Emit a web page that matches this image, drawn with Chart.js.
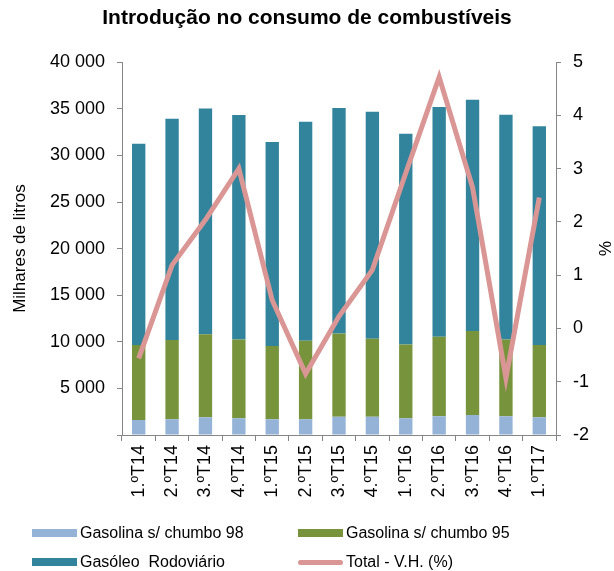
<!DOCTYPE html>
<html>
<head>
<meta charset="utf-8">
<script src="https://cdn.jsdelivr.net/npm/chart.js@4.4.1/dist/chart.umd.min.js"></script>
<style>
  body { margin: 0; background: #fff; font-family: "Liberation Sans", Arial, sans-serif; }
  #wrap { position: relative; width: 614px; height: 571px; }
  #legend { position: absolute; left: 0; top: 0; width: 614px; height: 571px; pointer-events: none; }
  .item { position: absolute; font-size: 16px; color: #000; display: flex; align-items: center; white-space: pre; }
  .swatch { width: 45px; height: 8px; margin-right: 3px; }
  .swatch.line { height: 5px; border-radius: 3px; }
</style>
</head>
<body>
<div id="wrap">
  <canvas id="myChart" width="614" height="571"></canvas>
  <div id="legend"></div>
</div>
<script>
// Data
const categories = ["1.ºT14", "2.ºT14", "3.ºT14", "4.ºT14", "1.ºT15", "2.ºT15", "3.ºT15", "4.ºT15", "1.ºT16", "2.ºT16", "3.ºT16", "4.ºT16", "1.ºT17"];
const gasolina98 = [1600, 1700, 1900, 1800, 1700, 1700, 1950, 1950, 1800, 2000, 2150, 2000, 1900];
const gasolina95 = [8050, 8480, 8920, 8450, 7840, 8410, 8950, 8370, 7920, 8540, 9000, 8250, 7750];
const gasoleo = [21610, 23760, 24200, 24080, 21900, 23510, 24180, 24370, 22610, 24650, 24830, 24120, 23470];
const totalVH = [-0.56, 1.19, 2.04, 3.0, 0.53, -0.85, 0.23, 1.1, 2.92, 4.72, 2.65, -0.93, 2.46];

const leftTicks = [0, 5000, 10000, 15000, 20000, 25000, 30000, 35000, 40000];
const rightTicks = [-2, -1, 0, 1, 2, 3, 4, 5];

const axisGray = "#868686";
const family = "'Liberation Sans', Arial, sans-serif";
const tickFont = { family: family, size: 18 };
const titleFont = { family: family, size: 17 };

function fmt(v) {
  if (v === 0) return "";
  return String(v).replace(/\B(?=(\d{3})+(?!\d))/g, " ");
}

const chart = new Chart(document.getElementById("myChart"), {
  data: {
    labels: categories,
    datasets: [
      { type: "line", label: "Total - V.H. (%)", data: totalVH, yAxisID: "y2",
        borderColor: "#D99694", borderWidth: 5, pointRadius: 0, tension: 0, order: 0 },
      { type: "bar", label: "Gasolina s/ chumbo 98", data: gasolina98, backgroundColor: "#95B3D7", order: 1 },
      { type: "bar", label: "Gasolina s/ chumbo 95", data: gasolina95, backgroundColor: "#77933C", order: 1 },
      { type: "bar", label: "Gasóleo  Rodoviário", data: gasoleo, backgroundColor: "#31849B", order: 1 }
    ]
  },
  options: {
    responsive: false,
    animation: false,
    layout: { padding: 0 },
    datasets: { bar: { barPercentage: 0.5, categoryPercentage: 0.8 } },
    plugins: {
      legend: { display: false },
      tooltip: { enabled: false },
      title: {
        display: true,
        text: "Introdução no consumo de combustíveis",
        color: "#000",
        font: { family: family, size: 21, weight: "bold" },
        padding: { top: 6, bottom: 31 }
      }
    },
    scales: {
      x: {
        stacked: true,
        offset: true,
        grid: { offset: true, drawOnChartArea: false, tickLength: 6, color: axisGray },
        border: { color: axisGray },
        ticks: { color: "#000", font: tickFont, maxRotation: 90, minRotation: 90, padding: 4 },
        afterFit: s => { s.height = 136; }
      },
      y: {
        stacked: true,
        position: "left",
        min: 0, max: 40000,
        afterBuildTicks: s => { s.ticks = leftTicks.map(v => ({ value: v })); },
        grid: { drawOnChartArea: false, tickLength: 5, color: axisGray },
        border: { color: axisGray },
        ticks: { color: "#000", font: tickFont, padding: 12, callback: v => fmt(v) },
        title: { display: true, text: "Milhares de litros", color: "#000", font: titleFont, padding: { top: 10, bottom: 0 } },
        afterFit: s => { s.width = 122; }
      },
      y2: {
        position: "right",
        min: -2, max: 5,
        afterBuildTicks: s => { s.ticks = rightTicks.map(v => ({ value: v })); },
        grid: { drawOnChartArea: false, tickLength: 5, color: axisGray },
        border: { color: axisGray },
        ticks: { color: "#000", font: tickFont, padding: 12 },
        title: { display: true, text: "%", color: "#000", font: titleFont, padding: 0 },
        afterFit: s => { s.width = 58; }
      }
    }
  }
});

// HTML legend in two columns, built from the chart datasets
const legendPos = [
  { ds: 1, left: 32, top: 524 },
  { ds: 2, left: 298, top: 524 },
  { ds: 3, left: 32, top: 553 },
  { ds: 0, left: 298, top: 553 }
];
const legend = document.getElementById("legend");
legendPos.forEach(p => {
  const ds = chart.data.datasets[p.ds];
  const item = document.createElement("div");
  item.className = "item";
  item.style.left = p.left + "px";
  item.style.top = p.top + "px";
  const sw = document.createElement("span");
  sw.className = "swatch" + (ds.type === "line" ? " line" : "");
  sw.style.background = ds.type === "line" ? ds.borderColor : ds.backgroundColor;
  const txt = document.createElement("span");
  txt.textContent = ds.label;
  item.appendChild(sw);
  item.appendChild(txt);
  legend.appendChild(item);
});
</script>
</body>
</html>
